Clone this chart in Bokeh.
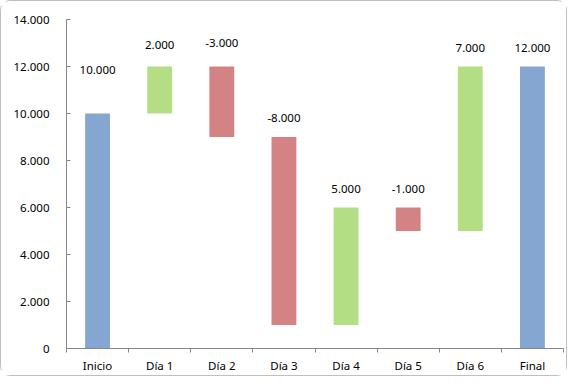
import numpy as np
from bokeh.plotting import figure
from bokeh.models import ColumnDataSource, FixedTicker
from bokeh.core.properties import value
from bokeh.embed import file_html
from bokeh.resources import INLINE

categories = ["Inicio", "Día 1", "Día 2", "Día 3", "Día 4", "Día 5", "Día 6", "Final"]
changes = [10000, 2000, -3000, -8000, 5000, -1000, 7000, 12000]
kinds = ["total", "delta", "delta", "delta", "delta", "delta", "delta", "total"]
y_ticks = [0, 2000, 4000, 6000, 8000, 10000, 12000, 14000]
y_tick_labels = ["0", "2.000", "4.000", "6.000", "8.000", "10.000", "12.000", "14.000"]

# waterfall bottoms / tops
bottoms, tops = [], []
running = 0
for c, k in zip(changes, kinds):
    if k == "total":
        bottoms.append(0)
        tops.append(c)
        running = c
    else:
        new = running + c
        bottoms.append(min(running, new))
        tops.append(max(running, new))
        running = new

BLUE, GREEN, RED = "#85A6D0", "#B3DE83", "#D38383"
colors = [BLUE if k == "total" else (GREEN if c > 0 else RED) for c, k in zip(changes, kinds)]
labels = ["{:,}".format(c).replace(",", ".") for c in changes]
label_offsets = [-44, -22, -24, -19, -19, -19, -19, -19]

x = np.arange(len(categories)) + 0.5
src = ColumnDataSource(dict(x=x, bottom=bottoms, top=tops, color=colors,
                            label=labels, off=label_offsets))

p = figure(frame_width=497, frame_height=329, x_range=(0, len(categories)), y_range=(0, 14000),
           output_backend="svg", toolbar_location=None,
           min_border_left=65, min_border_right=3, min_border_top=18, min_border_bottom=23)
p.styles = {"border": "1px solid #BFBFBF", "border-radius": "10px"}

FONT = "Noto Sans"
FS = "11.5px"

p.vbar(x="x", bottom="bottom", top="top", width=0.4, color="color", line_color=None, source=src)
p.text(x="x", y="top", text="label", y_offset="off", text_align="center", text_baseline="middle",
       text_font=value(FONT), text_font_size=FS, text_color="#000000", source=src)

p.xgrid.visible = False
p.ygrid.visible = False
p.outline_line_color = None

ax = p.yaxis[0]
ax.ticker = FixedTicker(ticks=y_ticks)
ax.major_label_overrides = {t: l for t, l in zip(y_ticks, y_tick_labels)}
ax.axis_line_color = "#868686"
ax.major_tick_line_color = "#868686"
ax.major_tick_in = 4
ax.major_tick_out = 0
ax.minor_tick_line_color = None
ax.major_label_standoff = 17
ax.major_label_text_font = FONT
ax.major_label_text_font_size = FS
ax.major_label_text_color = "#000000"

bx = p.xaxis[0]
bx.ticker = FixedTicker(ticks=list(x), minor_ticks=list(range(len(categories) + 1)))
bx.major_label_overrides = {float(v): c for v, c in zip(x, categories)}
bx.axis_line_color = "#868686"
bx.major_tick_line_color = None
bx.major_tick_in = 0
bx.major_tick_out = 0
bx.minor_tick_line_color = "#868686"
bx.minor_tick_in = 0
bx.minor_tick_out = 4
bx.major_label_standoff = 5
bx.major_label_text_font = FONT
bx.major_label_text_font_size = FS
bx.major_label_text_color = "#000000"

open("out.html", "w").write(file_html(p, INLINE))
